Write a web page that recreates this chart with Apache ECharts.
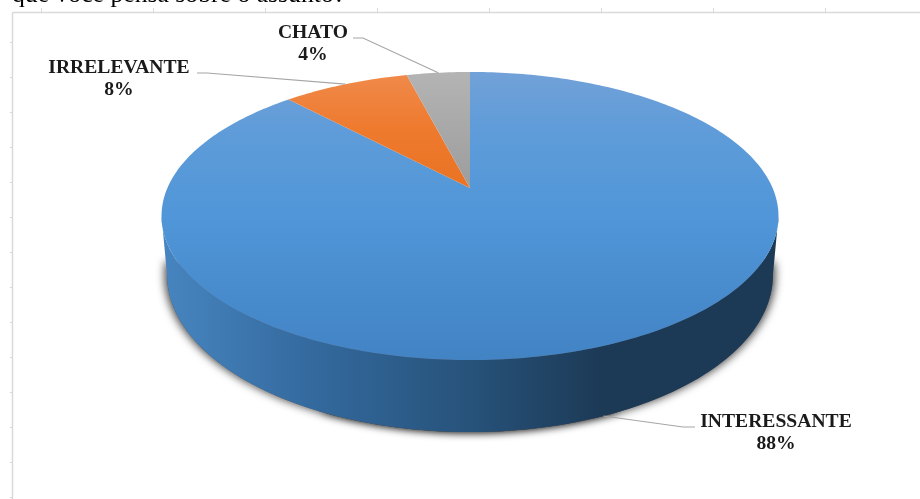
<!DOCTYPE html>
<html>
<head>
<meta charset="utf-8">
<style>html,body{margin:0;padding:0;background:#fff}#chart{width:920px;height:499px}</style>
<script src="https://cdn.jsdelivr.net/npm/echarts@6/dist/echarts.min.js"></script>
</head>
<body>
<div id="chart"></div>
<script>
// Survey answers, in percent, clockwise from twelve o'clock.
const categories = ['INTERESSANTE', 'IRRELEVANTE', 'CHATO'];
const percentages = [88, 8, 4];
const heading = 'que você pensa sobre o assunto?';

// Perspective disc: the apex of the slices sits above the centre of the rim ellipse.
const apex = { x: 470, y: 188 };
const disc = { rx: 302.6, ry: 138.6, tilt: 0.1944 };
// The lower rim of the cylinder, relative to the upper rim's ellipse.
const rim = { cy: 216, lowerCy: 275, xScale: 0.982, yScale: 157 / 144 };

const labelFont = 'bold 18px "Liberation Serif"';
const labelStretch = 1.09;
const labelLayout = {
  INTERESSANTE: { x: 776, y: 433, elbow: [683, 427], end: [695, 427], lower: true },
  IRRELEVANTE: { x: 119, y: 79, elbow: [207, 73], end: [197, 73] },
  CHATO: { x: 313, y: 44, elbow: [363, 38], end: [353, 38] }
};

const sliceFill = {
  INTERESSANTE: ['#72a1d8', '#5f9cd9', '#5096d8', '#4283c4'],
  IRRELEVANTE: ['#f08a4b', '#ee7a2e', '#e86f1e', '#e06a1a'],
  CHATO: ['#b4b4b4', '#a8a8a8', '#979797', '#8c8c8c']
};

function topPoint(deg) {
  const t = deg * Math.PI / 180;
  const d = 1 + disc.tilt * Math.cos(t);
  return [apex.x + disc.rx * Math.sin(t) / d, apex.y - disc.ry * Math.cos(t) / d];
}
function lowerPoint(deg) {
  const p = topPoint(deg);
  return [apex.x + rim.xScale * (p[0] - apex.x), rim.lowerCy + rim.yScale * (p[1] - rim.cy)];
}
function arc(from, to, project) {
  const pts = [];
  const n = Math.max(2, Math.ceil(Math.abs(to - from)));
  for (let i = 0; i <= n; i++) pts.push(project(from + (to - from) * i / n));
  return pts;
}

const total = percentages.reduce((a, b) => a + b, 0);
function sliceRange(i) {
  let start = 0;
  for (let k = 0; k < i; k++) start += percentages[k];
  return [start / total * 360, (start + percentages[i]) / total * 360];
}

// Front-facing span of the side wall.
const horizon = Math.acos(-disc.tilt) * 180 / Math.PI;

const seriesData = categories.map((name, i) => ({ name, value: percentages[i] }));

// A soft shadow pushed outward from one half of the lower rim.
function rimShadow(from, to, offsetX) {
  return {
    type: 'polygon',
    shape: { points: arc(from, to, lowerPoint) },
    style: {
      fill: '#555',
      shadowBlur: 8,
      shadowColor: 'rgba(0,0,0,0.7)',
      shadowOffsetX: offsetX,
      shadowOffsetY: 0
    }
  };
}

function renderWall(params) {
  const [a, b] = sliceRange(params.dataIndex);
  const from = Math.max(a, horizon);
  const to = Math.min(b, 360 - horizon);
  if (to <= from) return { type: 'group', children: [] };
  const upper = arc(from, to, topPoint);
  const lower = arc(to, from, lowerPoint);
  return {
    type: 'group',
    children: [
      rimShadow(96, 205, 2.5),
      rimShadow(155, 264, -2.5),
      {
        type: 'polygon',
        shape: { points: upper.concat(lower) },
        style: {
          fill: new echarts.graphic.LinearGradient(162, 0, 779, 0, [
            { offset: 0, color: '#4785c0' },
            { offset: 0.25, color: '#33699d' },
            { offset: 0.5, color: '#27527a' },
            { offset: 0.72, color: '#1c3955' },
            { offset: 1, color: '#1c3a56' }
          ], true)
        }
      }
    ]
  };
}

function renderSlice(params) {
  const name = categories[params.dataIndex];
  const [a, b] = sliceRange(params.dataIndex);
  const c = sliceFill[name];
  return {
    type: 'polygon',
    shape: { points: [[apex.x, apex.y]].concat(arc(a, b, topPoint)) },
    style: {
      fill: new echarts.graphic.LinearGradient(0, 72, 0, 360, [
        { offset: 0, color: c[0] },
        { offset: 0.2, color: c[1] },
        { offset: 0.5, color: c[2] },
        { offset: 1, color: c[3] }
      ], true)
    }
  };
}

function renderLabel(params) {
  const name = categories[params.dataIndex];
  const [a, b] = sliceRange(params.dataIndex);
  const mid = (a + b) / 2;
  const L = labelLayout[name];
  const anchor = L.lower ? lowerPoint(mid) : topPoint(mid);
  return {
    type: 'group',
    children: [
      {
        type: 'polyline',
        shape: { points: [anchor, L.elbow, L.end] },
        style: { stroke: '#a6a6a6', lineWidth: 1.2, fill: null }
      },
      {
        type: 'text',
        x: L.x,
        y: L.y,
        scaleX: labelStretch,
        style: {
          x: 0,
          y: 0,
          text: name + '\n' + percentages[params.dataIndex] + '%',
          font: labelFont,
          fill: '#1a1a1a',
          align: 'center',
          verticalAlign: 'middle',
          lineHeight: 22
        }
      }
    ]
  };
}

// Page furniture around the chart: frame and ruler ticks.
const frameColor = '#d9d9d9';
const furniture = [
  { type: 'line', shape: { x1: 12.5, y1: 12.5, x2: 920, y2: 12.5 }, style: { stroke: frameColor, lineWidth: 1.5 } },
  { type: 'line', shape: { x1: 12.5, y1: 12.5, x2: 12.5, y2: 499 }, style: { stroke: frameColor, lineWidth: 1.5 } }
];
for (let x = 41; x < 920; x += 112) {
  furniture.push({ type: 'line', shape: { x1: x + 0.5, y1: 8, x2: x + 0.5, y2: 12 }, style: { stroke: frameColor, lineWidth: 1 } });
}
for (let y = 42; y < 499; y += 35) {
  furniture.push({ type: 'line', shape: { x1: 10, y1: y + 0.5, x2: 12, y2: y + 0.5 }, style: { stroke: frameColor, lineWidth: 1 } });
}

const chart = echarts.init(document.getElementById('chart'), null, { renderer: 'canvas' });
chart.setOption({
  animation: false,
  backgroundColor: '#fff',
  title: {
    text: heading,
    left: 12,
    top: -18,
    padding: 0,
    textStyle: { fontFamily: 'Liberation Serif', fontSize: 25.7, fontWeight: 'normal', color: '#000' }
  },
  graphic: furniture,
  series: [
    { type: 'custom', coordinateSystem: 'none', silent: true, z: 2, data: seriesData, renderItem: renderWall },
    { type: 'custom', coordinateSystem: 'none', silent: true, z: 3, data: seriesData, renderItem: renderSlice },
    { type: 'custom', coordinateSystem: 'none', silent: true, z: 4, data: seriesData, renderItem: renderLabel }
  ]
});
</script>
</body>
</html>
